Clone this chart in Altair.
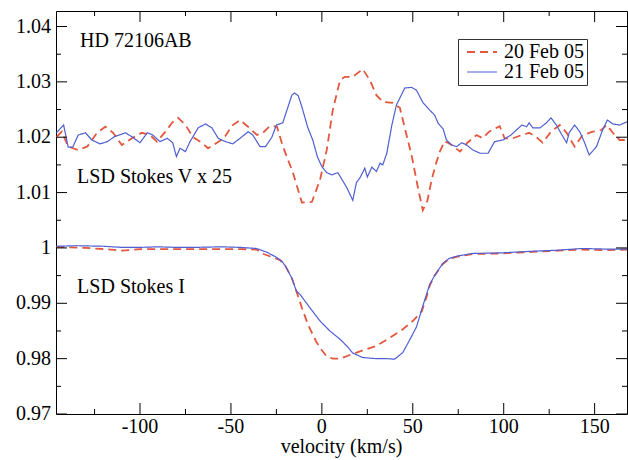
import altair as alt
import pandas as pd

dates = ["20 Feb 05", "21 Feb 05"]

# Stokes V x 25 (shifted), 20 Feb 05
v20_vel = [-146, -143, -139.5, -134, -129, -123.6, -119, -114.8, -110, -104.5, -99, -94.5, -90.7,
           -86, -82.4, -79, -75, -70.8, -66, -62.6, -57.7, -54, -49, -45, -40.6, -35.7, -32.4,
           -28.6, -24.7, -21.4, -15.9, -11, -5.5, -1, 2.7, 6, 10, 12.6, 17, 22.5, 26.4, 30, 33.5,
           39, 42.9, 45.6, 49.5, 52.7, 55.5, 58, 60.5, 63, 65, 67.6, 71.4, 76, 80, 85, 88.5, 92,
           97.8, 100.5, 105, 110, 114, 118, 121.4, 126, 130.8, 134.6, 139, 143.4, 149, 153.8,
           156.6, 160, 163.7, 168]
v20_val = [1.0200, 1.0210, 1.0183, 1.0177, 1.0183, 1.0208, 1.0219, 1.0208, 1.0186, 1.0198, 1.0208,
           1.0204, 1.0192, 1.0210, 1.0226, 1.0235, 1.0222, 1.0200, 1.0190, 1.0180, 1.0190, 1.0198,
           1.0222, 1.0231, 1.0219, 1.0204, 1.0208, 1.0220, 1.0219, 1.0183, 1.0136, 1.0082, 1.0083,
           1.0123, 1.0177, 1.0249, 1.0303, 1.0309, 1.0309, 1.0323, 1.0303, 1.0276, 1.0264, 1.0262,
           1.0253, 1.0217, 1.0165, 1.0111, 1.0068, 1.0085, 1.0125, 1.0155, 1.0175, 1.0193, 1.0186,
           1.0174, 1.0190, 1.0204, 1.0198, 1.0210, 1.0220, 1.0198, 1.0198, 1.0204, 1.0208, 1.0200,
           1.0190, 1.0210, 1.0222, 1.0208, 1.0183, 1.0204, 1.0210, 1.0213, 1.0222, 1.0208, 1.0195,
           1.0195]

# Stokes V x 25 (shifted), 21 Feb 05
v21_vel = [-146, -142, -139.5, -137, -134, -130, -126.5, -122, -118, -114, -108, -104.5, -100, -96,
           -93, -89, -85, -82, -80, -78, -75, -72.5, -68, -64, -60.5, -57, -53, -49, -45, -40.5,
           -38, -34, -31, -27.5, -25, -21.5, -16.5, -15, -13, -11, -7.7, -5, -2.5, 0, 2.7, 5.5,
           8.8, 13.7, 17, 19, 21, 23.6, 25, 27.5, 30, 32, 33.5, 35.7, 38.5, 41, 45.6, 49.4, 52,
           55.7, 59.3, 62, 64, 66.7, 68.5, 71.4, 74, 77, 79.6, 83, 87, 91.4, 95, 99.6, 104, 107,
           110, 112.6, 114, 116, 120, 123.5, 126, 129, 132, 134.6, 136, 139, 141.8, 144.5, 147,
           151, 154.4, 157, 160, 163.7, 168]
v21_val = [1.0208, 1.0222, 1.0182, 1.0182, 1.0204, 1.0208, 1.0195, 1.0188, 1.0192, 1.0201, 1.0208,
           1.0201, 1.0190, 1.0208, 1.0204, 1.0192, 1.0198, 1.0190, 1.0165, 1.0180, 1.0174, 1.0192,
           1.0217, 1.0224, 1.0217, 1.0198, 1.0192, 1.0188, 1.0198, 1.0210, 1.0204, 1.0183, 1.0183,
           1.0200, 1.0222, 1.0226, 1.0276, 1.0280, 1.0275, 1.0255, 1.0217, 1.0195, 1.0165, 1.0147,
           1.0136, 1.0132, 1.0136, 1.0109, 1.0086, 1.0118, 1.0127, 1.0144, 1.0128, 1.0146, 1.0138,
           1.0153, 1.0150, 1.0171, 1.0222, 1.0258, 1.0289, 1.0290, 1.0285, 1.0262, 1.0249, 1.0240,
           1.0225, 1.0215, 1.0195, 1.0186, 1.0183, 1.0190, 1.0186, 1.0177, 1.0171, 1.0171, 1.0192,
           1.0195, 1.0204, 1.0213, 1.0222, 1.0219, 1.0226, 1.0217, 1.0217, 1.0226, 1.0235, 1.0222,
           1.0204, 1.0190, 1.0208, 1.0222, 1.0210, 1.0190, 1.0168, 1.0183, 1.0213, 1.0231, 1.0224,
           1.0222, 1.0228]

# Stokes I, 20 Feb 05
i20_vel = [-146, -130, -120, -110, -100, -85, -70, -55, -45, -36, -32, -27, -23, -20, -16.6, -14,
           -11, -7.7, -3, 0, 2.7, 6, 10, 16.5, 22.5, 30, 37, 44.5, 50, 55, 57.6, 59.3, 62, 66.5,
           70, 74, 83, 98, 116, 130, 143, 155, 168]
i20_val = [1.0002, 1.0000, 0.9998, 0.9995, 0.9998, 0.9998, 0.9998, 0.9998, 0.9998, 0.9997, 0.9989,
           0.9983, 0.9978, 0.9967, 0.9946, 0.9922, 0.9892, 0.9862, 0.9830, 0.9815, 0.9804, 0.9800,
           0.9800, 0.9808, 0.9815, 0.9823, 0.9837, 0.9853, 0.9868, 0.9886, 0.9912, 0.9932, 0.9950,
           0.9971, 0.9980, 0.9984, 0.9989, 0.9990, 0.9993, 0.9995, 0.9997, 0.9996, 0.9997]

# Stokes I, 21 Feb 05
i21_vel = [-146, -135, -120, -110, -100, -90, -80, -70, -55, -45, -36, -30, -25, -22, -20, -16.6,
           -14, -12, -6.6, -1, 4.4, 10, 13.7, 17, 22.5, 30, 35.7, 40, 44.5, 48, 52, 55.5, 59.3,
           62, 66.5, 70, 74, 83, 98, 116, 130, 143, 155, 168]
i21_val = [1.0003, 1.0004, 1.0003, 1.0001, 1.0001, 1.0002, 1.0001, 1.0001, 1.0002, 1.0001, 0.9999,
           0.9992, 0.9983, 0.9976, 0.9967, 0.9946, 0.9922, 0.9916, 0.9892, 0.9868, 0.9850, 0.9835,
           0.9823, 0.9810, 0.9802, 0.9800, 0.9800, 0.9799, 0.9811, 0.9832, 0.9857, 0.9895, 0.9934,
           0.9950, 0.9972, 0.9981, 0.9985, 0.9990, 0.9991, 0.9994, 0.9996, 0.9999, 0.9998, 0.9998]

x_major = [-100, -50, 0, 50, 100, 150]
x_minor = [-125, -75, -25, 25, 75, 125]
y_major = [0.97, 0.98, 0.99, 1.0, 1.01, 1.02, 1.03, 1.04]
y_minor = [0.975, 0.985, 0.995, 1.005, 1.015, 1.025, 1.035]
x_title = "velocity (km/s)"

ann_text = ["HD 72106AB", "LSD Stokes V x 25", "LSD Stokes I"]
ann_x = [-133.0, -134.6, -134.6]
ann_y = [1.0363, 1.0117, 0.9918]

X_DOMAIN = [-146.2, 167.8]
Y_DOMAIN = [0.97, 1.0428]

W, H = 571, 403
FONT = "Liberation Serif"
RED = "#e4573d"
BLUE = "#4e5fd1"
MAJOR_LEN, MINOR_LEN = 22, 10   # full tick length; the outer half is clipped -> inward ticks


def profile_rows(prof, date, xs, ys):
    return [{"velocity": xv, "value": yv, "date": date, "profile": prof + " " + date}
            for xv, yv in zip(xs, ys)]


def fmt_y(v):
    s = f"{v:.2f}".rstrip("0").rstrip(".")
    return s


df = pd.DataFrame(profile_rows("V", dates[0], v20_vel, v20_val) +
                  profile_rows("V", dates[1], v21_vel, v21_val) +
                  profile_rows("I", dates[0], i20_vel, i20_val) +
                  profile_rows("I", dates[1], i21_vel, i21_val))
ann = pd.DataFrame({"text": ann_text, "ax": ann_x, "ay": ann_y})

xt = pd.DataFrame([{"tv": v, "edge": e, "len": L}
                   for e in Y_DOMAIN
                   for vals, L in ((x_major, MAJOR_LEN), (x_minor, MINOR_LEN)) for v in vals])
yt = pd.DataFrame([{"tv": v, "edge": e, "len": L}
                   for e in X_DOMAIN
                   for vals, L in ((y_major, MAJOR_LEN), (y_minor, MINOR_LEN)) for v in vals])
xl = pd.DataFrame({"tv": x_major, "edge": [Y_DOMAIN[0]] * len(x_major),
                   "label": [str(v) for v in x_major]})
yl = pd.DataFrame({"tv": y_major, "edge": [X_DOMAIN[0]] * len(y_major),
                   "label": [fmt_y(v) for v in y_major]})
tl = pd.DataFrame({"tx": [(X_DOMAIN[0] + X_DOMAIN[1]) / 2], "ty": [Y_DOMAIN[0]],
                   "label": [x_title]})

xscale = alt.Scale(domain=X_DOMAIN, nice=False, zero=False)
yscale = alt.Scale(domain=Y_DOMAIN, nice=False, zero=False)

leg = alt.Legend(orient="none", legendX=402, legendY=28, title=None,
                 symbolType="M-2,0L2,0", symbolSize=225, symbolStrokeWidth=1.6,
                 labelFont=FONT, labelFontSize=20, labelColor="black",
                 strokeColor="#333333", fillColor="white", padding=3,
                 symbolOffset=11, rowPadding=0, labelOffset=12)

lines = alt.Chart(df).mark_line(clip=True).encode(
    x=alt.X("velocity:Q", scale=xscale, axis=None),
    y=alt.Y("value:Q", scale=yscale, axis=None),
    color=alt.Color("date:N", scale=alt.Scale(domain=dates, range=[RED, BLUE]), legend=leg),
    strokeDash=alt.StrokeDash("date:N", scale=alt.Scale(domain=dates, range=[[8, 5], [1, 0]]),
                              legend=leg),
    strokeWidth=alt.StrokeWidth("date:N", scale=alt.Scale(domain=dates, range=[1.8, 1.2]),
                                legend=None),
    detail="profile:N",
)

texts = alt.Chart(ann).mark_text(align="left", baseline="alphabetic", font=FONT,
                                 fontSize=20, color="black").encode(
    x=alt.X("ax:Q", scale=xscale, axis=None),
    y=alt.Y("ay:Q", scale=yscale, axis=None),
    text="text:N",
)

x_ticks = alt.Chart(xt).mark_tick(orient="vertical", thickness=1, color="black",
                                  clip=True, opacity=1).encode(
    x=alt.X("tv:Q", scale=xscale, axis=None),
    y=alt.Y("edge:Q", scale=yscale, axis=None),
    size=alt.Size("len:Q", scale=None, legend=None),
)

y_ticks = alt.Chart(yt).mark_tick(orient="horizontal", thickness=1, color="black",
                                  clip=True, opacity=1).encode(
    x=alt.X("edge:Q", scale=xscale, axis=None),
    y=alt.Y("tv:Q", scale=yscale, axis=None),
    size=alt.Size("len:Q", scale=None, legend=None),
)

# tick labels and axis title, placed from the tick values through the scales
x_labels = alt.Chart(xl).mark_text(align="center", baseline="top", dy=3, font=FONT,
                                   fontSize=20, color="black").encode(
    x=alt.X("tv:Q", scale=xscale, axis=None),
    y=alt.Y("edge:Q", scale=yscale, axis=None),
    text="label:N",
)

y_labels = alt.Chart(yl).mark_text(align="right", baseline="middle", dx=-5, font=FONT,
                                   fontSize=20, color="black").encode(
    x=alt.X("edge:Q", scale=xscale, axis=None),
    y=alt.Y("tv:Q", scale=yscale, axis=None),
    text="label:N",
)

x_title_mark = alt.Chart(tl).mark_text(align="center", baseline="alphabetic", dy=39, font=FONT,
                                       fontSize=20, color="black").encode(
    x=alt.X("tx:Q", scale=xscale, axis=None),
    y=alt.Y("ty:Q", scale=yscale, axis=None),
    text="label:N",
)

chart = alt.layer(lines, texts, x_ticks, y_ticks, x_labels, y_labels, x_title_mark).properties(
    width=W, height=H,
    padding={"left": 56, "top": 11, "right": 1, "bottom": 46},
    autosize=alt.AutoSizeParams(type="none"),
    background="white",
).configure_view(stroke="black", strokeWidth=1)

chart.save("out.html", embed_options={"renderer": "svg", "actions": False})
